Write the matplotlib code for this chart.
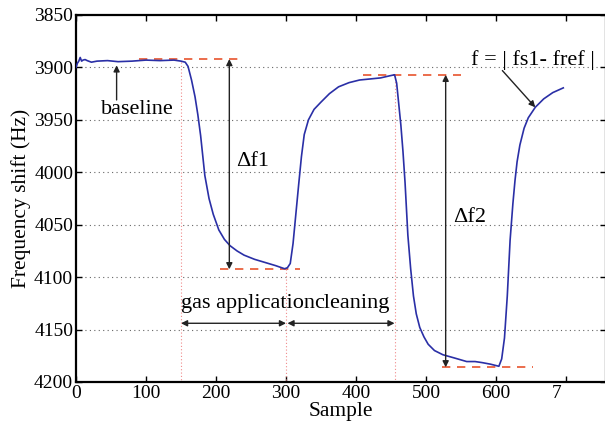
import matplotlib
matplotlib.use("Agg")
import matplotlib.pyplot as plt
import matplotlib.transforms as mtransforms

plt.rcParams['font.family'] = ['Liberation Serif', 'DejaVu Serif']

# sensor response: frequency shift per sample
sample = [0, 2, 4, 6, 8, 10, 13, 16, 22, 30, 45, 60, 80, 100, 120, 140, 150, 156,
          160, 165, 170, 174, 178, 184, 190, 196, 204, 212, 220, 230, 240, 255, 270,
          285, 298, 302, 306, 310, 314, 318, 322, 326, 332, 340, 350, 362, 375, 390,
          405, 420, 435, 448, 455, 458, 461, 464, 467, 470, 474, 478, 482, 486, 491,
          497, 503, 512, 524, 540, 558, 570, 580, 592, 604, 608, 612, 616, 620, 624,
          627, 630, 634, 640, 646, 656, 668, 681, 696]
freq = [3900, 3896, 3894, 3890.5, 3894, 3893, 3892.5, 3893.5, 3895, 3894, 3893.5,
        3894.5, 3894, 3893, 3893.5, 3893, 3894, 3895, 3899, 3912, 3928, 3945, 3965,
        4003, 4025, 4040, 4055, 4064, 4070, 4075, 4079, 4083, 4086, 4089, 4092, 4091,
        4087, 4068, 4040, 4012, 3985, 3964, 3950, 3940, 3933, 3925, 3918.5, 3914.5,
        3912, 3911, 3910, 3908, 3907, 3915, 3935, 3955, 3980, 4010, 4060, 4092, 4118,
        4135, 4148, 4157, 4164, 4170, 4174, 4177, 4180.5, 4180.5, 4181.5, 4183, 4185,
        4178, 4158, 4118, 4065, 4030, 4008, 3990, 3974, 3958, 3948, 3938, 3930, 3924,
        3919.5]

# reference levels
base1, low1 = 3892, 4092.5
base2, low2 = 3907, 4186
x_gas_on, x_clean, x_gas2 = 150, 300, 455

xticks = [0, 100, 200, 300, 400, 500, 600, 700]
xticklabels = ['0', '100', '200', '300', '400', '500', '600', '7']
yticks = [3850, 3900, 3950, 4000, 4050, 4100, 4150, 4200]

fig = plt.figure(figsize=(6.05, 4.25), dpi=100)
ax = fig.add_axes([76 / 605, 1 - 382 / 425, 530 / 605, 367 / 425])

for yv in yticks[1:-1]:
    ax.axhline(yv, color='#666666', ls=(0, (1, 3)), lw=0.8, zorder=0)

ax.plot(sample, freq, color='#2a2fa6', lw=1.2, zorder=3)

# dashed level markers
red = '#e8542e'
ax.plot([90, 232], [base1, base1], color=red, ls=(0, (5, 4)), lw=1.2)
ax.plot([205, 320], [low1, low1], color=red, ls=(0, (5, 4)), lw=1.2)
ax.plot([410, 550], [base2, base2], color=red, ls=(0, (5, 4)), lw=1.2)
ax.plot([523, 653], [low2, low2], color=red, ls=(0, (5, 4)), lw=1.2)

# phase boundaries
pink = '#f08a8a'
ax.plot([x_gas_on, x_gas_on], [3895, 4200], color=pink, ls=(0, (1, 2)), lw=0.8)
ax.plot([x_clean, x_clean], [low1, 4200], color=pink, ls=(0, (1, 2)), lw=0.8)
ax.plot([x_gas2, x_gas2], [base2, 4200], color=pink, ls=(0, (1, 2)), lw=0.8)

arrow_kw = dict(arrowstyle='<|-|>', color='#222222', lw=1.0, mutation_scale=9,
                shrinkA=0, shrinkB=0)
ax.annotate('', xy=(219, base1), xytext=(219, low1), arrowprops=arrow_kw)
ax.annotate('', xy=(528, base2), xytext=(528, low2), arrowprops=arrow_kw)
ax.annotate('', xy=(x_gas_on, 4144), xytext=(x_clean, 4144), arrowprops=arrow_kw)
ax.annotate('', xy=(x_clean + 2, 4144), xytext=(x_gas2, 4144), arrowprops=arrow_kw)

ax.annotate('', xy=(58, 3898), xytext=(58, 3931),
            arrowprops=dict(arrowstyle='-|>', color='#222222', lw=1.0,
                            mutation_scale=9, shrinkA=0, shrinkB=0))
ax.annotate('', xy=(656, 3938), xytext=(609, 3903),
            arrowprops=dict(arrowstyle='-|>', color='#222222', lw=1.0,
                            mutation_scale=9, shrinkA=0, shrinkB=0))

fs = 16
ax.text(88, 3940, 'baseline', fontsize=fs, ha='center', va='center')
ax.text(228, 3990, 'Δf1', fontsize=fs, ha='left', va='center')
ax.text(538, 4043, 'Δf2', fontsize=fs, ha='left', va='center')
ax.text(245, 4125, 'gas application', fontsize=fs, ha='center', va='center')
ax.text(394, 4125, 'cleaning', fontsize=fs, ha='center', va='center')
ax.text(653, 3893, 'f = | fs1- fref |', fontsize=fs, ha='center', va='center')

ax.set_xlim(0, 757)
ax.set_ylim(4200, 3850)
ax.set_xticks(xticks)
ax.set_xticklabels(xticklabels)
ax.set_yticks(yticks)
ax.tick_params(direction='in', length=4, width=1, top=True, right=True,
               labelsize=14, pad=2)
for sp in ax.spines.values():
    sp.set_linewidth(1.6)

# nudge the last (cut) label left
lbl = ax.get_xticklabels()[-1]
lbl.set_transform(lbl.get_transform() + mtransforms.ScaledTranslation(-9 / 100, 0, fig.dpi_scale_trans))

ax.set_xlabel('Sample', fontsize=15.5, labelpad=0)
ax.set_ylabel('Frequency shift (Hz)', fontsize=15.5, labelpad=2)

fig.savefig('out.png', dpi=100)
